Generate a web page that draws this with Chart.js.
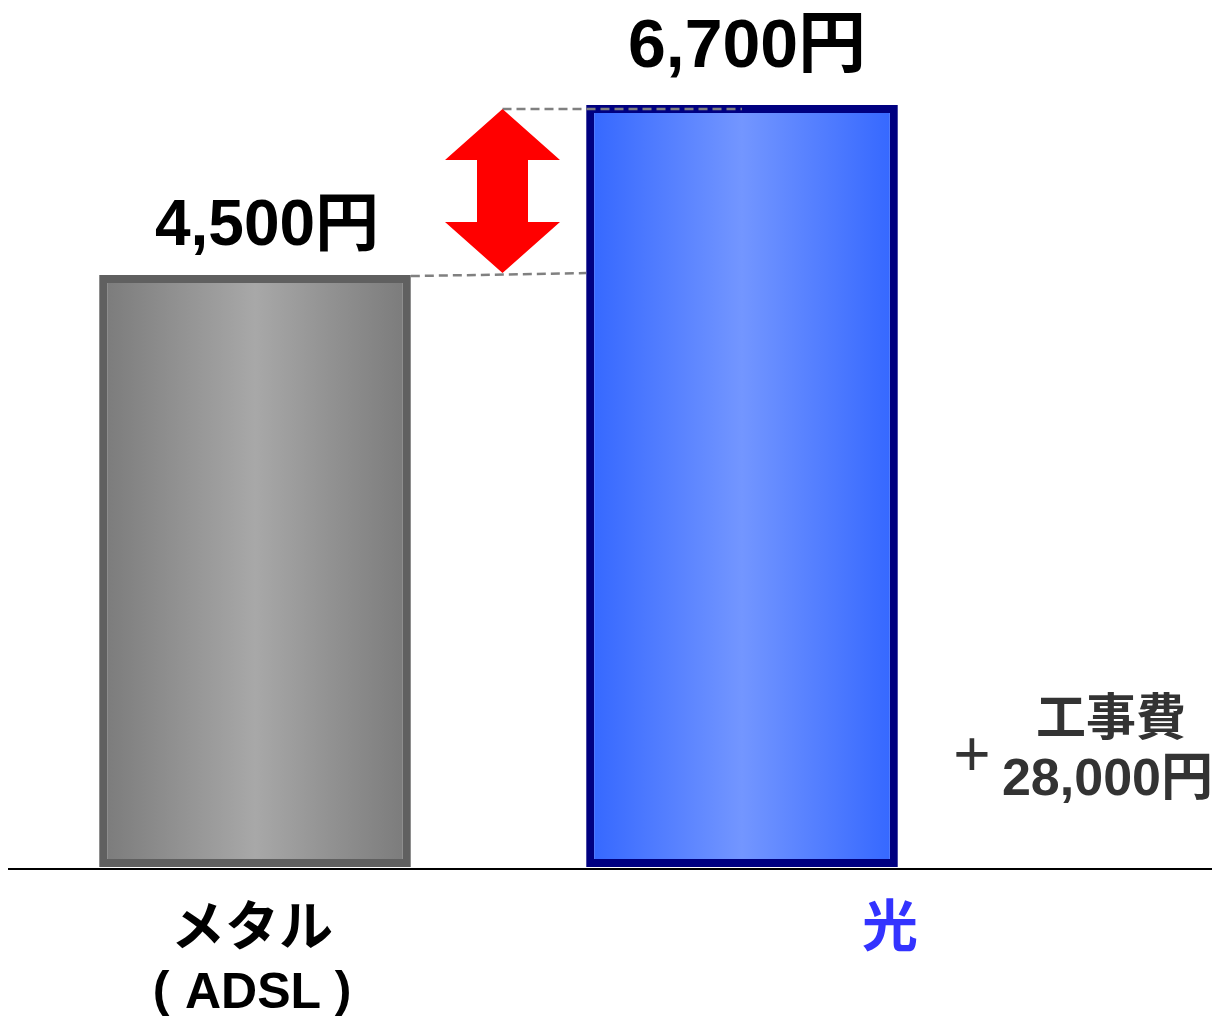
<!DOCTYPE html>
<html>
<head>
<meta charset="utf-8">
<script src="https://cdn.jsdelivr.net/npm/chart.js@4/dist/chart.umd.min.js"></script>
<style>
  html, body { margin: 0; padding: 0; background: #fff; }
  #wrap { width: 1215px; height: 1019px; position: relative; }
</style>
</head>
<body>
<div id="wrap"><canvas id="myChart"></canvas></div>
<script>
'use strict';

// chart data
var categories = ['メタル', '光'];
var subLabels = ['ADSL', ''];
var monthlyFees = [4500, 6700];
var labelColors = ['#000000', '#3333ff'];
var noteLines = ['工事費', '+', '28,000円'];

var borderColors = ['#606060', '#000080'];
var gradStops = [
    ['#7a7a7a', '#a8a8a8', '#7a7a7a'],
    ['#3366ff', '#7396ff', '#3366ff']
];

var BAR_PCT = 0.64;

function barGradient(context) {
    var chart = context.chart;
    var xs = chart.scales.x;
    if (!chart.chartArea || !xs) {
        return gradStops[context.dataIndex][0];
    }
    var cx = xs.getPixelForValue(context.dataIndex);
    var half = xs.width / categories.length * BAR_PCT / 2;
    var g = chart.ctx.createLinearGradient(cx - half, 0, cx + half, 0);
    var s = gradStops[context.dataIndex];
    g.addColorStop(0, s[0]);
    g.addColorStop(0.5, s[1]);
    g.addColorStop(1, s[2]);
    return g;
}

function yen(v) {
    return v.toLocaleString('en-US') + '円';
}

var extras = {
    id: 'extras',
    afterDatasetsDraw: function (chart) {
        var c = chart.ctx;
        var ys = chart.scales.y;
        var bars = chart.getDatasetMeta(0).data;
        var lowY = ys.getPixelForValue(monthlyFees[0]);
        var highY = ys.getPixelForValue(monthlyFees[1]);
        var lowRight = bars[0].x + bars[0].width / 2;
        var highLeft = bars[1].x - bars[1].width / 2;
        var arrowX = (lowRight + highLeft) / 2 + 4;

        c.save();
        // dashed guide lines
        c.strokeStyle = '#808080';
        c.lineWidth = 2.5;
        c.setLineDash([9, 5]);
        c.beginPath();
        c.moveTo(lowRight, lowY + 1);
        c.lineTo(highLeft, lowY - 2);
        c.moveTo(arrowX, highY + 4);
        c.lineTo(bars[1].x, highY + 4);
        c.stroke();
        c.setLineDash([]);

        // red double arrow
        var top = highY + 4, bot = lowY - 2;
        var hh = 51, hw = 57.5, sw = 25.5;
        c.fillStyle = '#ff0000';
        c.beginPath();
        c.moveTo(arrowX, top);
        c.lineTo(arrowX + hw, top + hh);
        c.lineTo(arrowX + sw, top + hh);
        c.lineTo(arrowX + sw, bot - hh);
        c.lineTo(arrowX + hw, bot - hh);
        c.lineTo(arrowX, bot);
        c.lineTo(arrowX - hw, bot - hh);
        c.lineTo(arrowX - sw, bot - hh);
        c.lineTo(arrowX - sw, top + hh);
        c.lineTo(arrowX - hw, top + hh);
        c.closePath();
        c.fill();

        // baseline
        var base = ys.getPixelForValue(ys.min);
        c.strokeStyle = '#000000';
        c.lineWidth = 2;
        c.beginPath();
        c.moveTo(8, base + 2);
        c.lineTo(1212, base + 2);
        c.stroke();

        // value labels
        c.textAlign = 'center';
        c.textBaseline = 'alphabetic';
        c.fillStyle = '#000000';
        c.font = 'bold 64px "Liberation Sans", "Noto Sans CJK JP", sans-serif';
        c.fillText(yen(monthlyFees[0]), bars[0].x + 12, bars[0].y - 30);
        c.font = 'bold 68px "Liberation Sans", "Noto Sans CJK JP", sans-serif';
        c.fillText(yen(monthlyFees[1]), bars[1].x + 5, bars[1].y - 38);

        // category labels
        c.textBaseline = 'middle';
        c.font = 'bold 54px "Noto Sans CJK JP", sans-serif';
        c.fillStyle = labelColors[0];
        c.fillText(categories[0], bars[0].x - 3, base + 58);
        c.textBaseline = 'alphabetic';
        c.font = 'bold 50px "Liberation Sans", sans-serif';
        c.fillText(subLabels[0], bars[0].x - 2, base + 141);
        c.font = 'bold 50px "Liberation Sans", sans-serif';
        c.fillText('(', bars[0].x - 94, base + 139);
        c.fillText(')', bars[0].x + 88, base + 139);
        c.textBaseline = 'middle';
        c.font = 'bold 56px "Noto Sans CJK JP", sans-serif';
        c.fillStyle = labelColors[1];
        c.fillText(categories[1], bars[1].x + 148, base + 58);

        // construction fee note
        c.fillStyle = '#333333';
        c.font = 'bold 50px "Noto Sans CJK JP", sans-serif';
        c.fillText(noteLines[0], 1111, 716);
        c.font = '64px "Liberation Sans", sans-serif';
        c.fillText(noteLines[1], 972, 758);
        c.textAlign = 'right';
        c.textBaseline = 'alphabetic';
        c.font = 'bold 52px "Liberation Sans", "Noto Sans CJK JP", sans-serif';
        c.fillText(noteLines[2], 1213, 795);
        c.restore();
    }
};

var ctx = document.getElementById('myChart').getContext('2d');
var myChart = new Chart(ctx, {
    type: 'bar',
    data: {
        labels: categories,
        datasets: [{
            data: monthlyFees,
            base: -3160,
            backgroundColor: barGradient,
            borderColor: borderColors,
            borderWidth: 8,
            borderSkipped: false,
            barPercentage: BAR_PCT,
            categoryPercentage: 1
        }]
    },
    options: {
        responsive: true,
        maintainAspectRatio: false,
        animation: false,
        layout: {
            padding: { left: 11.5, right: 229.5, top: 0, bottom: 152 }
        },
        plugins: {
            legend: { display: false },
            tooltip: { enabled: false }
        },
        scales: {
            x: { display: false },
            y: { display: false, min: -3160, max: 8060 }
        }
    },
    plugins: [extras]
});
</script>
</body>
</html>
